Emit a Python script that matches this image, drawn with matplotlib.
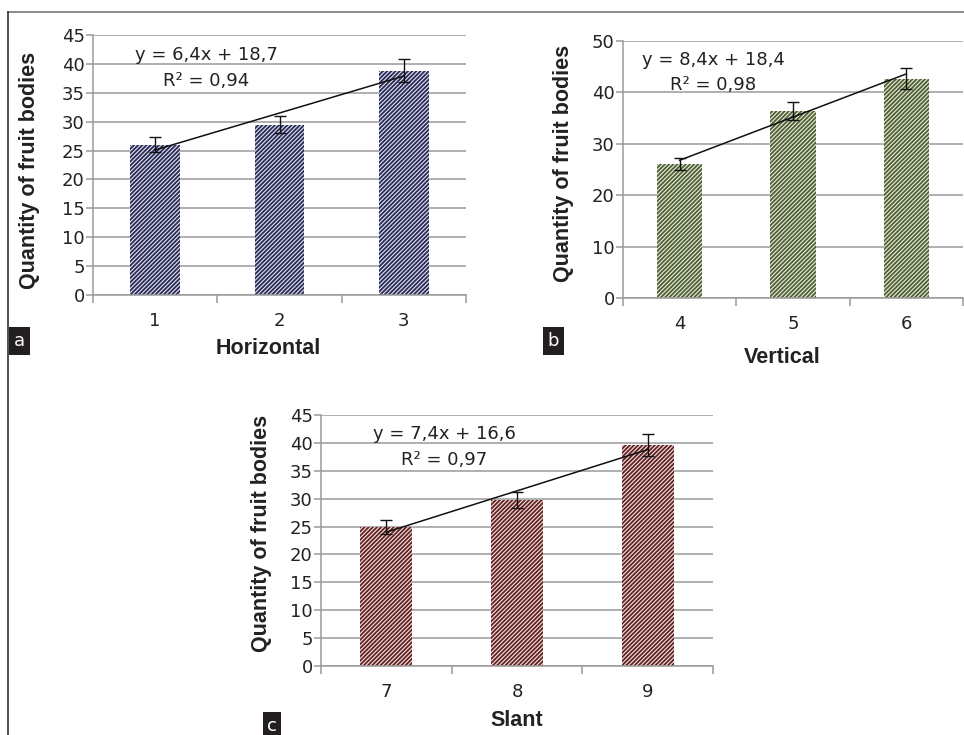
import matplotlib
matplotlib.use("Agg")
import matplotlib.pyplot as plt
import numpy as np

W, H = 964, 735
DPI = 100

# ---- data ----
cats_a = ["1", "2", "3"]
vals_a = [26.0, 29.5, 38.8]
err_a = [1.3, 1.5, 2.0]
fit_a = (6.4, 18.7)
eq_a = ["y = 6,4x + 18,7", "R² = 0,94"]

cats_b = ["4", "5", "6"]
vals_b = [26.1, 36.4, 42.7]
err_b = [1.2, 1.7, 2.1]
fit_b = (8.4, 18.4)
eq_b = ["y = 8,4x + 18,4", "R² = 0,98"]

cats_c = ["7", "8", "9"]
vals_c = [24.9, 29.8, 39.6]
err_c = [1.2, 1.4, 2.0]
fit_c = (7.4, 16.6)
eq_c = ["y = 7,4x + 16,6", "R² = 0,97"]

xlabels = ["Horizontal", "Vertical", "Slant"]
ylabel = "Quantity of fruit bodies"
panel_tags = ["a", "b", "c"]

plt.rcParams['hatch.linewidth'] = 1.3
REG = ['DejaVu Sans']
BOLD = ['Liberation Sans', 'DejaVu Sans']

fig = plt.figure(figsize=(W / DPI, H / DPI), dpi=DPI)


def fx(px):
    return px / W


def fy(py):
    return 1 - py / H


def make_axes(l, r, t, b):
    return fig.add_axes([fx(l), fy(b), fx(r - l), (b - t) / H])


def panel(ax, cats, vals, errs, fit, ymax, ystep, hatch_col, face_col):
    x = np.arange(len(cats))
    ax.set_xlim(-0.5, len(cats) - 0.5)
    ax.set_ylim(0, ymax)
    ax.set_yticks(np.arange(0, ymax + 0.1, ystep))
    ax.yaxis.grid(True, color='#9a9a9a', lw=1.1)
    ax.set_axisbelow(True)
    ax.bar(x, vals, width=0.4, facecolor=face_col, edgecolor=hatch_col,
           hatch='////////', linewidth=0, zorder=2)
    ax.errorbar(x, vals, yerr=errs, fmt='none', ecolor='#111111', elinewidth=1.0,
                capsize=4, capthick=1.0, zorder=4)
    slope, icpt = fit
    xs = x + 1
    ax.plot(x, slope * xs + icpt, color='#111111', lw=1.1, zorder=5)
    for s in ['top', 'right']:
        ax.spines[s].set_visible(False)
    for s in ['left', 'bottom']:
        ax.spines[s].set_color('#9a9a9a')
        ax.spines[s].set_linewidth(1.1)
    # category boundary ticks
    ax.set_xticks(np.arange(-0.5, len(cats), 1.0))
    ax.set_xticklabels([])
    ax.tick_params(axis='x', which='major', length=6, color='#9a9a9a', width=1.1, direction='out')
    ax.set_xticks(x, minor=True)
    ax.set_xticklabels(cats, minor=True, fontfamily=REG, fontsize=13, color='#222222')
    ax.tick_params(axis='x', which='minor', length=0, pad=12)
    ax.tick_params(axis='y', length=5, color='#9a9a9a', width=1.1, pad=1,
                   labelsize=13, labelcolor='#222222')
    for lab in ax.get_yticklabels():
        lab.set_fontfamily(REG)


ax_a = make_axes(93, 466, 35, 295)
panel(ax_a, cats_a, vals_a, err_a, fit_a, 45, 5, '#282a58', '#e4e4ef')
ax_b = make_axes(623, 963, 41, 298)
panel(ax_b, cats_b, vals_b, err_b, fit_b, 50, 10, '#4f5f33', '#e9eedd')
ax_c = make_axes(321, 713, 415, 666)
panel(ax_c, cats_c, vals_c, err_c, fit_c, 45, 5, '#632222', '#f3e3e3')


def ftext(px, py, s, **kw):
    fig.text(fx(px), fy(py), s, **kw)


# equations
for (cx, y1, y2), eq in zip([(206, 55, 81), (713, 60, 85), (444, 434, 460)], [eq_a, eq_b, eq_c]):
    ftext(cx, y1, eq[0], ha='center', va='center', fontsize=13, family=REG, color='#222222')
    ftext(cx, y2, eq[1], ha='center', va='center', fontsize=13, family=REG, color='#222222')

# axis labels
for (cx, cy), lab in zip([(268, 349), (782, 357), (517, 720)], xlabels):
    ftext(cx, cy, lab, ha='center', va='center', fontsize=15.5, fontweight='bold',
          family=BOLD, color='#222222')
for cx, cy in [(30, 170), (563, 163), (261, 533)]:
    ftext(cx, cy, ylabel, ha='center', va='center', rotation=90, fontsize=15.5,
          fontweight='bold', family=BOLD, color='#222222')

# panel tags
for (cx, cy), tag in zip([(19.5, 341), (553.5, 341), (272, 726)], panel_tags):
    ftext(cx, cy, tag, ha='center', va='center', fontsize=13, family=REG, color='white',
          bbox=dict(boxstyle='square,pad=0.25', facecolor='#231f20', edgecolor='none'))

# figure frame lines
fig.add_artist(plt.Line2D([fx(8), 1.0], [fy(12), fy(12)], color='#777777', lw=1.2))
fig.add_artist(plt.Line2D([fx(8), fx(8)], [fy(12), 0.0], color='#333333', lw=1.2))

fig.savefig("out.png", dpi=DPI)
